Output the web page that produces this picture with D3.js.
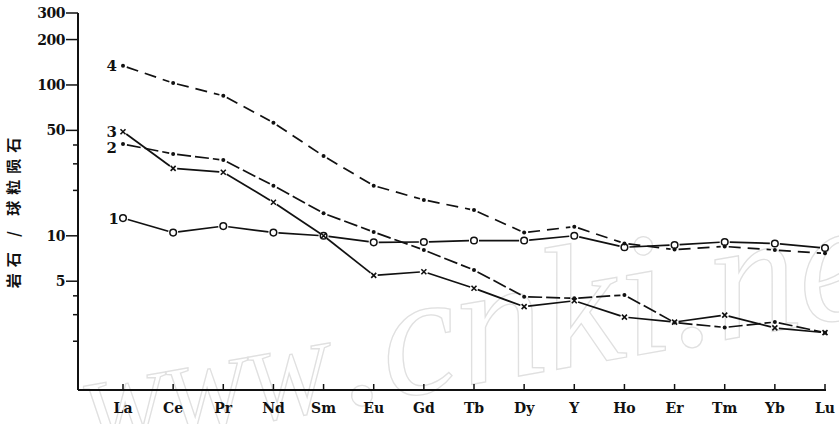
<!DOCTYPE html>
<html>
<head>
<meta charset="utf-8">
<script src="https://cdn.jsdelivr.net/npm/d3@7"></script>
<style>
  body { margin: 0; background: #fff; }
  svg text { font-family: "DejaVu Serif", "Liberation Serif", serif; font-weight: bold; fill: #111; }
</style>
</head>
<body>
<svg id="chart" width="839" height="424"></svg>
<script>
  // REE pattern, rock / chondrite
  const elements = ['La', 'Ce', 'Pr', 'Nd', 'Sm', 'Eu', 'Gd', 'Tb', 'Dy', 'Y', 'Ho', 'Er', 'Tm', 'Yb', 'Lu'];
  const sample1 = [13.1, 10.5, 11.6, 10.5, 10.0, 9.05, 9.1, 9.3, 9.3, 10.0, 8.4, 8.7, 9.1, 8.9, 8.3];
  const sample2 = [40.6, 34.9, 31.8, 21.5, 14.1, 10.6, 8.05, 5.93, 3.95, 3.85, 4.05, 2.66, 2.47, 2.68, 2.28];
  const sample3 = [49.0, 28.0, 26.4, 16.7, 10.0, 5.47, 5.78, 4.49, 3.39, 3.71, 2.89, 2.68, 2.98, 2.45, 2.28];
  const sample4 = [134, 103, 84.9, 56.2, 33.8, 21.5, 17.3, 14.8, 10.5, 11.5, 8.9, 8.1, 8.5, 8.05, 7.65];
  const seriesNames = ['1', '2', '3', '4'];
  const yMajor = [5, 10, 50, 100, 200, 300];
  const yMinor = [2, 3, 4, 20, 30, 40];
  const yTitle = '岩石 / 球粒陨石';

  const series = [
    {name: seriesNames[0], values: sample1, marker: 'circle', dash: null, gap: 5},
    {name: seriesNames[1], values: sample2, marker: 'dot', dash: '14,4', gap: 4},
    {name: seriesNames[2], values: sample3, marker: 'cross', dash: null, gap: 4},
    {name: seriesNames[3], values: sample4, marker: 'dot', dash: '12,7', gap: 4},
  ];

  const svg = d3.select('#chart');
  const x = d3.scalePoint().domain(elements).range([123, 825]);
  const y = d3.scaleLog().domain([0.95, 300]).range([390, 13]);

  // faint watermark from the scan
  const wm = svg.append('text')
    .attr('transform', 'translate(88,452) rotate(-10)')
    .style('font-family', '"Liberation Serif", serif')
    .style('font-weight', 'normal')
    .style('font-style', 'italic')
    .style('fill', 'none')
    .style('stroke', '#e0e0e0')
    .style('stroke-width', 1.3);
  wm.append('tspan').style('font-size', '100px').text('WWW');
  wm.append('tspan').attr('dx', 12).style('font-size', '175px').text('.cnki.net');

  // y axis
  const yAxis = svg.append('g');
  yAxis.append('line')
    .attr('x1', 78).attr('x2', 78).attr('y1', y(300)).attr('y2', 390)
    .attr('stroke', '#111').attr('stroke-width', 2);
  yAxis.selectAll('.major').data(yMajor).join('line')
    .attr('x1', 66).attr('x2', 78).attr('y1', d => y(d)).attr('y2', d => y(d))
    .attr('stroke', '#111').attr('stroke-width', 1.5);
  yAxis.selectAll('.minor').data(yMinor).join('line')
    .attr('x1', 73).attr('x2', 78).attr('y1', d => y(d)).attr('y2', d => y(d))
    .attr('stroke', '#111').attr('stroke-width', 1.5);
  yAxis.selectAll('text').data(yMajor).join('text')
    .attr('x', 65).attr('y', d => y(d)).attr('dy', '0.36em')
    .attr('text-anchor', 'end').style('font-size', '14px')
    .style('letter-spacing', '-0.5px')
    .text(d => d);

  svg.append('text')
    .attr('transform', 'translate(19,210) rotate(-90)')
    .attr('text-anchor', 'middle')
    .style('font-family', '"Noto Sans CJK SC", sans-serif')
    .style('font-weight', 'bold')
    .style('font-size', '15px')
    .style('letter-spacing', '6px')
    .text(yTitle);

  // x axis
  const xAxis = svg.append('g');
  xAxis.append('line')
    .attr('x1', 78).attr('x2', x('Lu') + 1).attr('y1', 390).attr('y2', 390)
    .attr('stroke', '#111').attr('stroke-width', 2);
  xAxis.selectAll('.tick').data(elements).join('line')
    .attr('x1', d => x(d)).attr('x2', d => x(d)).attr('y1', 390).attr('y2', 384)
    .attr('stroke', '#111').attr('stroke-width', 1.5);
  xAxis.selectAll('text').data(elements).join('text')
    .attr('x', d => x(d)).attr('y', 413)
    .attr('text-anchor', 'middle').style('font-size', '14px')
    .text(d => d);

  // lines drawn as segments that stop short of each marker, like the original
  series.forEach(s => {
    const pts = s.values.map((v, i) => [x(elements[i]), y(v)]);
    const segs = d3.pairs(pts).map(([a, b]) => {
      const dx = b[0] - a[0], dy = b[1] - a[1];
      const len = Math.hypot(dx, dy);
      const ux = dx / len, uy = dy / len;
      return [a[0] + ux * s.gap, a[1] + uy * s.gap, b[0] - ux * s.gap, b[1] - uy * s.gap];
    });
    svg.append('g').selectAll('line').data(segs).join('line')
      .attr('x1', d => d[0]).attr('y1', d => d[1])
      .attr('x2', d => d[2]).attr('y2', d => d[3])
      .attr('stroke', '#111').attr('stroke-width', 1.7)
      .attr('stroke-dasharray', s.dash);

    const g = svg.append('g');
    if (s.marker === 'circle') {
      g.selectAll('circle').data(pts).join('circle')
        .attr('cx', d => d[0]).attr('cy', d => d[1]).attr('r', 3.3)
        .attr('fill', '#fff').attr('stroke', '#111').attr('stroke-width', 1.5);
    } else if (s.marker === 'dot') {
      g.selectAll('circle').data(pts).join('circle')
        .attr('cx', d => d[0]).attr('cy', d => d[1]).attr('r', 2)
        .attr('fill', '#111');
    } else {
      g.selectAll('path').data(pts).join('path')
        .attr('d', d => `M${d[0] - 2.5},${d[1] - 2.5}L${d[0] + 2.5},${d[1] + 2.5}M${d[0] + 2.5},${d[1] - 2.5}L${d[0] - 2.5},${d[1] + 2.5}`)
        .attr('stroke', '#111').attr('stroke-width', 1.6);
    }

    // series number left of the La point
    svg.append('text')
      .attr('x', pts[0][0] - (s.marker === 'circle' ? 4 : 6))
      .attr('y', pts[0][1] + (s.name === '2' ? 4 : 0))
      .attr('dy', '0.36em').attr('text-anchor', 'end')
      .style('font-size', '15px')
      .text(s.name);
  });
</script>
</body>
</html>
